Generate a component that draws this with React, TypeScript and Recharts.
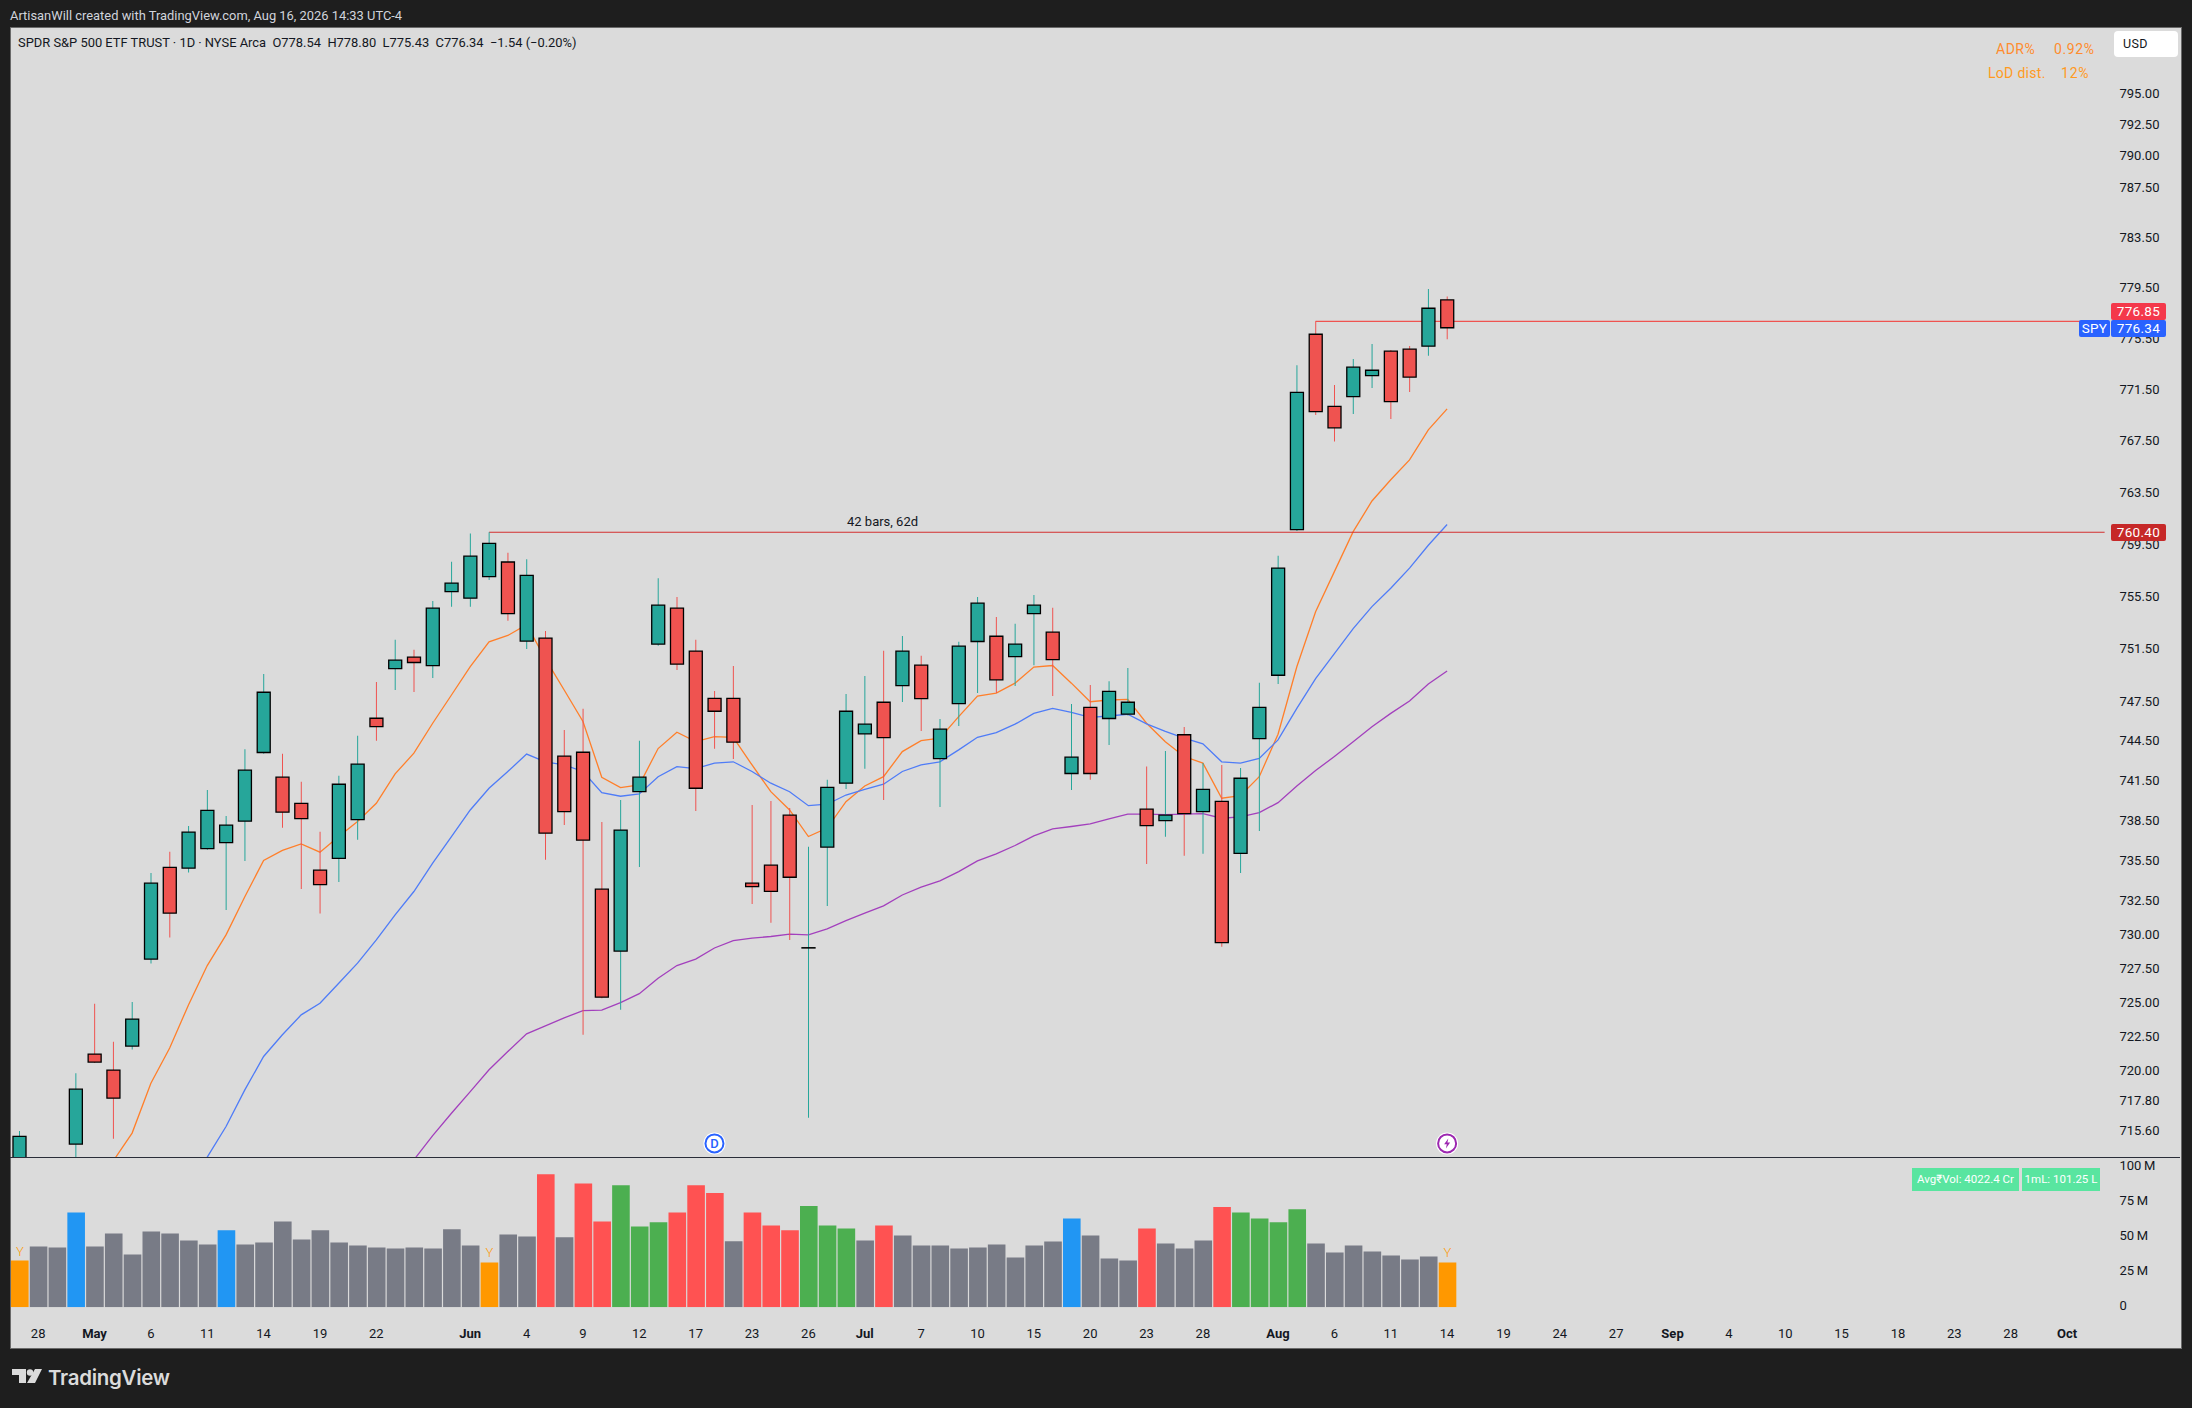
import React from 'react';
import { ComposedChart, Bar, Line, XAxis, YAxis, Cell, ReferenceLine, ReferenceDot, LabelList } from 'recharts';

// trading days on the time axis, including the empty days to the right of the last bar
const days = [
  'Apr 27', 'Apr 28', 'Apr 29', 'Apr 30', 'May 1', 'May 4', 'May 5', 'May 6', 'May 7', 'May 8',
  'May 11', 'May 12', 'May 13', 'May 14', 'May 15', 'May 18', 'May 19', 'May 20', 'May 21', 'May 22',
  'May 26', 'May 27', 'May 28', 'May 29', 'Jun 1', 'Jun 2', 'Jun 3', 'Jun 4', 'Jun 5', 'Jun 8',
  'Jun 9', 'Jun 10', 'Jun 11', 'Jun 12', 'Jun 15', 'Jun 16', 'Jun 17', 'Jun 18', 'Jun 22', 'Jun 23',
  'Jun 24', 'Jun 25', 'Jun 26', 'Jun 29', 'Jun 30', 'Jul 1', 'Jul 2', 'Jul 6', 'Jul 7', 'Jul 8',
  'Jul 9', 'Jul 10', 'Jul 13', 'Jul 14', 'Jul 15', 'Jul 16', 'Jul 17', 'Jul 20', 'Jul 21', 'Jul 22',
  'Jul 23', 'Jul 24', 'Jul 27', 'Jul 28', 'Jul 29', 'Jul 30', 'Jul 31', 'Aug 3', 'Aug 4', 'Aug 5',
  'Aug 6', 'Aug 7', 'Aug 10', 'Aug 11', 'Aug 12', 'Aug 13', 'Aug 14', 'Aug 17', 'Aug 18', 'Aug 19',
  'Aug 20', 'Aug 21', 'Aug 24', 'Aug 25', 'Aug 26', 'Aug 27', 'Aug 28', 'Aug 31', 'Sep 1', 'Sep 2',
  'Sep 3', 'Sep 4', 'Sep 8', 'Sep 9', 'Sep 10', 'Sep 11', 'Sep 14', 'Sep 15', 'Sep 16', 'Sep 17',
  'Sep 18', 'Sep 21', 'Sep 22', 'Sep 23', 'Sep 24', 'Sep 25', 'Sep 28', 'Sep 29', 'Sep 30', 'Oct 1',
  'Oct 2', 'Oct 5',
];

const opens = [
  712.2, 711.5, 711.0, 714.64, 721.2, 720.03, 721.78, 728.18, 734.99, 734.93,
  736.38, 736.84, 738.44, 743.6, 741.74, 739.78, 734.78, 735.65, 738.56, 746.19,
  749.96, 750.83, 750.19, 755.84, 755.33, 756.98, 758.11, 752.05, 752.28, 743.33,
  743.62, 733.36, 728.77, 740.65, 751.82, 754.57, 751.29, 747.7, 747.7, 733.81,
  735.15, 738.89, 729.0, 736.5, 741.29, 745.0, 747.4, 748.66, 750.22, 743.14,
  747.29, 752.02, 752.42, 750.87, 754.15, 752.73, 742.02, 747.02, 746.17, 746.5,
  739.34, 738.48, 744.94, 739.16, 739.93, 736.03, 744.65, 749.45, 760.6, 775.83,
  770.18, 770.93, 772.58, 774.5, 774.66, 774.89, 778.54,
];
const highs = [
  715.6, 712.4, 713.2, 719.8, 724.88, 722.1, 725.02, 734.56, 736.15, 738.07,
  740.78, 738.83, 743.85, 749.55, 743.5, 741.39, 737.64, 741.84, 744.86, 748.94,
  752.15, 751.4, 755.12, 758.13, 760.3, 760.4, 758.83, 758.33, 752.83, 745.3,
  746.9, 738.38, 740.03, 744.48, 756.86, 755.43, 752.15, 748.26, 750.16, 739.66,
  739.96, 739.43, 736.52, 741.54, 748.03, 749.4, 751.31, 752.45, 750.93, 746.14,
  752.0, 755.43, 753.9, 753.37, 755.58, 754.6, 747.27, 748.71, 749.0, 750.01,
  742.55, 743.72, 745.53, 742.8, 742.66, 742.43, 748.89, 758.59, 773.39, 776.85,
  771.85, 773.89, 775.07, 774.6, 774.91, 779.4, 778.8,
];
const lows = [
  711.5, 710.2, 710.4, 713.0, 720.54, 715.02, 721.53, 727.85, 729.77, 734.6,
  736.3, 731.82, 735.47, 743.5, 737.94, 733.38, 731.55, 733.9, 737.04, 744.48,
  748.33, 748.18, 749.25, 754.67, 754.67, 756.72, 753.6, 751.44, 735.55, 738.16,
  722.61, 725.3, 724.44, 735.02, 751.7, 749.85, 739.21, 743.88, 743.12, 732.26,
  730.86, 729.6, 716.55, 732.12, 740.86, 742.37, 740.03, 747.42, 745.23, 739.5,
  745.6, 748.1, 748.1, 748.63, 750.22, 747.87, 740.78, 741.54, 744.17, 746.4,
  735.24, 737.27, 735.85, 736.0, 729.1, 734.57, 737.71, 748.79, 760.5, 769.5,
  767.44, 769.57, 771.61, 769.18, 771.3, 774.13, 775.43,
];
const closes = [
  715.2, 710.8, 712.2, 718.63, 720.61, 717.98, 723.76, 733.81, 731.58, 737.62,
  739.25, 738.14, 742.27, 748.16, 739.11, 738.63, 733.7, 741.21, 742.72, 745.56,
  750.6, 750.42, 754.57, 756.49, 758.56, 759.55, 754.15, 757.08, 737.54, 739.16,
  737.02, 725.37, 737.77, 741.74, 754.8, 750.29, 740.91, 746.72, 744.38, 733.55,
  733.2, 734.25, 729.02, 740.98, 746.72, 745.74, 744.73, 751.29, 747.67, 745.36,
  751.67, 754.95, 749.1, 751.82, 754.8, 750.64, 743.25, 742.02, 748.23, 747.4,
  738.11, 738.89, 739.01, 740.82, 729.4, 741.66, 747.02, 757.64, 771.27, 769.76,
  768.5, 773.24, 773.0, 770.54, 772.46, 777.88, 776.34,
];

const maFast = [
  null, null, null, null, 711.5, 713.43, 715.44, 719.07, 721.64, 724.8,
  727.7, 729.97, 732.8, 735.5, 736.25, 736.74, 736.12, 737.29, 738.41, 739.78,
  741.99, 743.55, 745.81, 747.95, 750.1, 752.0, 752.48, 753.3, 750.7, 748.33,
  745.94, 741.74, 740.96, 741.16, 743.9, 745.13, 744.42, 744.8, 744.75, 742.66,
  740.65, 739.28, 737.29, 737.92, 739.9, 741.08, 741.78, 743.67, 744.5, 744.69,
  746.31, 747.87, 748.09, 748.85, 750.07, 750.19, 748.85, 747.44, 747.57, 747.62,
  745.81, 744.42, 743.3, 742.8, 740.16, 740.35, 741.78, 744.98, 750.1, 754.3,
  757.37, 760.45, 762.82, 764.46, 766.0, 768.34, 769.98,
];
const maMid = [
  null, null, null, null, null, null, null, null, null, 711.0,
  713.7, 715.92, 718.58, 721.02, 722.61, 724.07, 724.93, 726.4, 727.88, 729.6,
  731.45, 733.19, 735.3, 737.29, 739.28, 740.91, 742.17, 743.48, 742.9, 742.66,
  742.17, 740.58, 740.31, 740.48, 741.78, 742.53, 742.38, 742.8, 742.9, 742.17,
  741.29, 740.65, 739.6, 739.71, 740.4, 740.82, 741.21, 742.17, 742.66, 742.9,
  743.8, 744.75, 745.1, 745.74, 746.56, 746.94, 746.64, 746.26, 746.36, 746.49,
  745.76, 745.2, 744.69, 744.26, 742.9, 742.8, 743.16, 744.55, 746.94, 749.2,
  751.1, 753.0, 754.69, 756.1, 757.64, 759.4, 761.0,
];
const maSlow = [
  null, null, null, null, null, null, null, null, null, null,
  null, null, null, null, null, null, null, null, null, null,
  711.0, 713.5, 715.26, 716.88, 718.46, 720.05, 721.38, 722.68, 723.27, 723.85,
  724.39, 724.42, 724.97, 725.63, 726.77, 727.7, 728.18, 729.0, 729.55, 729.73,
  729.85, 730.03, 729.97, 730.41, 731.03, 731.58, 732.12, 732.93, 733.51, 733.98,
  734.67, 735.47, 736.0, 736.62, 737.34, 737.87, 738.04, 738.24, 738.61, 738.96,
  738.96, 738.93, 738.96, 739.01, 738.66, 738.76, 739.08, 739.83, 741.08, 742.24,
  743.3, 744.42, 745.55, 746.56, 747.5, 748.79, 749.78,
];

// volume in millions
const volumes = [
  33.3, 43.3, 42.6, 67.6, 43.3, 52.6, 37.6, 54, 52.6, 47.6,
  44.8, 54.8, 44.8, 46.2, 61.2, 48.3, 54.8, 46.2, 44, 42.6,
  41.9, 42.6, 41.9, 55.5, 44, 31.9, 51.9, 50.5, 94.8, 49.8,
  88.3, 61.2, 86.9, 57.6, 60.5, 67.6, 86.9, 81.5, 47.1, 67.6,
  58.3, 54.8, 72.1, 58.3, 56.2, 47.6, 58.3, 51.2, 44, 44,
  41.9, 42.6, 44.8, 35.5, 44, 46.9, 63.3, 51.2, 34.8, 33.3,
  56.2, 45.5, 41.9, 47.6, 71.4, 67.6, 63.3, 60.5, 69.8, 45.5,
  39, 44, 39.7, 36.9, 34, 36.2, 31.9,
];
// n normal, b blue, y yearly low volume, d heavy down day, u heavy up day
const volumeKinds = [
  'y', 'n', 'n', 'b', 'n', 'n', 'n', 'n', 'n', 'n',
  'n', 'b', 'n', 'n', 'n', 'n', 'n', 'n', 'n', 'n',
  'n', 'n', 'n', 'n', 'n', 'y', 'n', 'n', 'd', 'n',
  'd', 'd', 'u', 'u', 'u', 'd', 'd', 'd', 'n', 'd',
  'd', 'd', 'u', 'u', 'u', 'n', 'd', 'n', 'n', 'n',
  'n', 'n', 'n', 'n', 'n', 'n', 'b', 'n', 'n', 'n',
  'd', 'n', 'n', 'n', 'd', 'u', 'u', 'u', 'u', 'n',
  'n', 'n', 'n', 'n', 'n', 'n', 'y',
];

const priceTicks = [
  795, 792.5, 790, 787.5, 783.5, 779.5, 775.5, 771.5, 767.5, 763.5, 759.5, 755.5, 751.5,
  747.5, 744.5, 741.5, 738.5, 735.5, 732.5, 730, 727.5, 725, 722.5, 720, 717.8, 715.6,
];
const volumeTicks = [0, 25, 50, 75, 100];
const axisDays = [
  'Apr 28', 'May 1', 'May 6', 'May 11', 'May 14', 'May 19', 'May 22', 'Jun 1', 'Jun 4', 'Jun 9',
  'Jun 12', 'Jun 17', 'Jun 23', 'Jun 26', 'Jul 1', 'Jul 7', 'Jul 10', 'Jul 15', 'Jul 20', 'Jul 23',
  'Jul 28', 'Aug 3', 'Aug 6', 'Aug 11', 'Aug 14', 'Aug 19', 'Aug 24', 'Aug 27', 'Sep 1', 'Sep 4',
  'Sep 10', 'Sep 15', 'Sep 18', 'Sep 23', 'Sep 28', 'Oct 1',
];
const axisLabels = [
  '28', 'May', '6', '11', '14', '19', '22', 'Jun', '4', '9',
  '12', '17', '23', '26', 'Jul', '7', '10', '15', '20', '23',
  '28', 'Aug', '6', '11', '14', '19', '24', '27', 'Sep', '4',
  '10', '15', '18', '23', '28', 'Oct',
];

const UP = '#26a69a';
const DOWN = '#ef5350';
const KIND_COLOR: Record<string, string> = { n: '#787b86', b: '#2196f3', y: '#ff9800', d: '#ff5252', u: '#4caf50' };
const FONT = 'Roboto, "Liberation Sans", sans-serif';

const rows = days.map((day, i) => ({
  day,
  wick: highs[i] == null ? null : [lows[i], highs[i]],
  body: opens[i] == null ? null : [Math.min(opens[i], closes[i]), Math.max(opens[i], closes[i])],
  up: closes[i] >= opens[i],
  maFast: maFast[i] ?? null,
  maMid: maMid[i] ?? null,
  maSlow: maSlow[i] ?? null,
  volume: volumes[i] ?? null,
  kind: volumeKinds[i],
  mark: volumeKinds[i] === 'y' ? 'Y' : undefined,
}));

const DayTick = ({ x, y, payload }: any) => {
  const label = axisLabels[axisDays.indexOf(payload.value)];
  const isMonth = /[A-Za-z]/.test(label);
  return (
    <text x={x} y={y} dy={4.5} textAnchor="middle" fontFamily={FONT} fontSize={13} fontWeight={isMonth ? 700 : 400} fill="#131722">
      {label}
    </text>
  );
};

const Marker = ({ cx, cy, color, children }: any) => (
  <g>
    <circle cx={cx} cy={cy} r={11} fill="#fff" />
    <circle cx={cx} cy={cy} r={9} fill="#fff" stroke={color} strokeWidth={2} />
    {children}
  </g>
);

const box = (left: number, top: number, width: number, height: number, background: string, radius = 0): React.CSSProperties => ({
  position: 'absolute',
  left,
  top,
  width,
  height,
  background,
  borderRadius: radius,
  color: '#fff',
  fontFamily: FONT,
  fontSize: 13.5,
  lineHeight: `${height}px`,
  textAlign: 'center',
  letterSpacing: 0.3,
});

const note = (left: number, top: number, color: string, size = 14, spacing = 0): React.CSSProperties => ({
  position: 'absolute',
  left,
  top,
  color,
  fontFamily: FONT,
  fontSize: size,
  lineHeight: '16px',
  letterSpacing: spacing,
  whiteSpace: 'pre',
});

export default function App() {
  return (
    <div style={{ position: 'absolute', left: 0, top: 0, width: 2192, height: 1408, background: '#1e1e1e', overflow: 'hidden' }}>
      <div style={note(10, 8, '#d1d4dc', 12.9)}>ArtisanWill created with TradingView.com, Aug 16, 2026 14:33 UTC-4</div>
      <div style={{ position: 'absolute', left: 9.5, top: 27, width: 2170.5, height: 1320, background: '#dbdbdb', border: '1px solid #6a6a6a' }} />

      <div style={{ position: 'absolute', left: 10, top: 28 }}>
        <ComposedChart width={2171} height={1129.5} data={rows} margin={{ top: 0, right: 0, bottom: 0, left: 0 }} barGap={0}>
          <XAxis xAxisId="wick" dataKey="day" hide />
          <XAxis xAxisId="body" dataKey="day" hide />
          <YAxis
            orientation="right"
            width={67}
            scale="log"
            domain={[713.67, 800.31]}
            allowDataOverflow
            ticks={priceTicks}
            interval={0}
            tickFormatter={(v: number) => v.toFixed(2)}
            axisLine={false}
            tickLine={false}
            tickSize={0}
            tickMargin={5.5}
            tick={{ fontFamily: FONT, fontSize: 13, fill: '#131722' }}
          />
          <Line xAxisId="wick" dataKey="maFast" stroke="#ff7f2a" strokeWidth={1.3} dot={false} isAnimationActive={false} connectNulls={false} zIndex={50} />
          <Line xAxisId="wick" dataKey="maMid" stroke="#4f7cf7" strokeWidth={1.3} dot={false} isAnimationActive={false} connectNulls={false} zIndex={50} />
          <Line xAxisId="wick" dataKey="maSlow" stroke="#a340bd" strokeWidth={1.3} dot={false} isAnimationActive={false} connectNulls={false} zIndex={50} />
          <ReferenceLine
            xAxisId="wick"
            segment={[{ x: 'Jun 2', y: 760.4 }, { x: 'Oct 5', y: 760.4 }]}
            stroke="#d32f2f"
            strokeWidth={1.2}
            zIndex={60}
          />
          <ReferenceLine
            xAxisId="wick"
            segment={[{ x: 'Aug 5', y: 776.85 }, { x: 'Oct 5', y: 776.85 }]}
            stroke="#ef5350"
            strokeWidth={1.2}
            zIndex={60}
          />
          <Bar xAxisId="wick" dataKey="wick" barSize={1} isAnimationActive={false} zIndex={300}>
            {rows.map((r) => <Cell key={r.day} fill={r.up ? UP : DOWN} />)}
          </Bar>
          <Bar xAxisId="body" dataKey="body" barSize={13} stroke="#000" strokeWidth={1.3} isAnimationActive={false} zIndex={310}>
            {rows.map((r) => <Cell key={r.day} fill={r.up ? UP : DOWN} stroke="#000" />)}
          </Bar>
          <ReferenceDot
            xAxisId="wick"
            x="Jun 18"
            y={714.69}
            zIndex={400}
            shape={(p: any) => (
              <Marker cx={p.cx} cy={p.cy} color="#2962ff">
                <text x={p.cx} y={p.cy + 4.5} textAnchor="middle" fontFamily={FONT} fontSize={13} fontWeight={500} fill="#2962ff">D</text>
              </Marker>
            )}
          />
          <ReferenceDot
            xAxisId="wick"
            x="Aug 14"
            y={714.69}
            zIndex={400}
            shape={(p: any) => (
              <Marker cx={p.cx} cy={p.cy} color="#9c27b0">
                <path d={`M${p.cx + 1.2} ${p.cy - 5} L${p.cx - 3} ${p.cy + 0.8} L${p.cx - 0.3} ${p.cy + 0.8} L${p.cx - 1.2} ${p.cy + 5} L${p.cx + 3} ${p.cy - 0.8} L${p.cx + 0.3} ${p.cy - 0.8} Z`} fill="#9c27b0" />
              </Marker>
            )}
          />
        </ComposedChart>
      </div>

      <div style={{ position: 'absolute', left: 10, top: 1156.6, width: 2170, height: 1.4, background: '#2a2e39' }} />

      <div style={{ position: 'absolute', left: 10, top: 1157.5 }}>
        <ComposedChart width={2171} height={190} data={rows} margin={{ top: 0, right: 0, bottom: 0, left: 0 }}>
          <XAxis
            dataKey="day"
            height={40.8}
            ticks={axisDays}
            interval={0}
            axisLine={false}
            tickLine={false}
            tickSize={0}
            tickMargin={26.6}
            tick={<DayTick />}
          />
          <YAxis
            orientation="right"
            width={67}
            domain={[0, 106.4]}
            allowDataOverflow
            ticks={volumeTicks}
            interval={0}
            tickFormatter={(v: number) => (v === 0 ? '0' : `${v}\u2009M`)}
            axisLine={false}
            tickLine={false}
            tickSize={0}
            tickMargin={5.5}
            tick={{ fontFamily: FONT, fontSize: 13, fill: '#131722', dy: -2 }}
          />
          <Bar dataKey="volume" barSize={17.6} isAnimationActive={false}>
            {rows.map((r) => <Cell key={r.day} fill={KIND_COLOR[r.kind] ?? '#787b86'} />)}
            <LabelList dataKey="mark" position="top" fill="#ff9800" fontFamily={FONT} fontSize={13} fontWeight={300} />
          </Bar>
        </ComposedChart>
      </div>

      <div style={note(18, 35, '#131722', 12.9)}>SPDR S&amp;P 500 ETF TRUST · 1D · NYSE Arca  O778.54  H778.80  L775.43  C776.34  −1.54 (−0.20%)</div>
      <div style={note(847, 514, '#131722', 13)}>42 bars, 62d</div>

      <div style={note(1996, 41, '#ff8c2e', 14, 0.5)}>ADR%</div>
      <div style={note(2054, 41, '#ff8c2e', 14, 0.6)}>0.92%</div>
      <div style={note(1988, 65, '#ff9a1f', 14, 0.3)}>LoD dist.</div>
      <div style={note(2061, 65, '#ff9a1f', 14, 0.8)}>12%</div>
      <div style={{ ...box(2114, 31, 64, 26, '#fff', 4), color: '#131722', textAlign: 'left', paddingLeft: 9, width: 55, fontSize: 12.5 }}>USD</div>

      <div style={box(2111, 303, 55, 17, '#f4384b', 2)}>776.85</div>
      <div style={box(2079, 320, 31, 17, '#2962ff', 2)}>SPY</div>
      <div style={box(2111, 320, 55, 17, '#2962ff', 2)}>776.34</div>
      <div style={box(2111, 524, 55, 17, '#c62828', 2)}>760.40</div>

      <div style={{ ...box(1912, 1168, 107, 23, '#59e5a0'), fontSize: 11.5, letterSpacing: 0 }}>Avg₹Vol: 4022.4 Cr</div>
      <div style={{ ...box(2022, 1168, 78, 23, '#59e5a0'), fontSize: 11.5, letterSpacing: 0 }}>1mL: 101.25 L</div>

      <svg style={{ position: 'absolute', left: 12, top: 1369 }} width={30} height={16}>
        <path d="M0 0H14V14H7V6H0Z M23 0H30L23 14H15Z" fill="#dbdbdb" />
        <circle cx={18} cy={3.5} r={3.2} fill="#dbdbdb" />
      </svg>
      <div style={{ ...note(48, 1367, '#dbdbdb', 20.5), lineHeight: '22px', fontFamily: 'Inter, Roboto, sans-serif', fontWeight: 600, letterSpacing: -0.3 }}>TradingView</div>
    </div>
  );
}
